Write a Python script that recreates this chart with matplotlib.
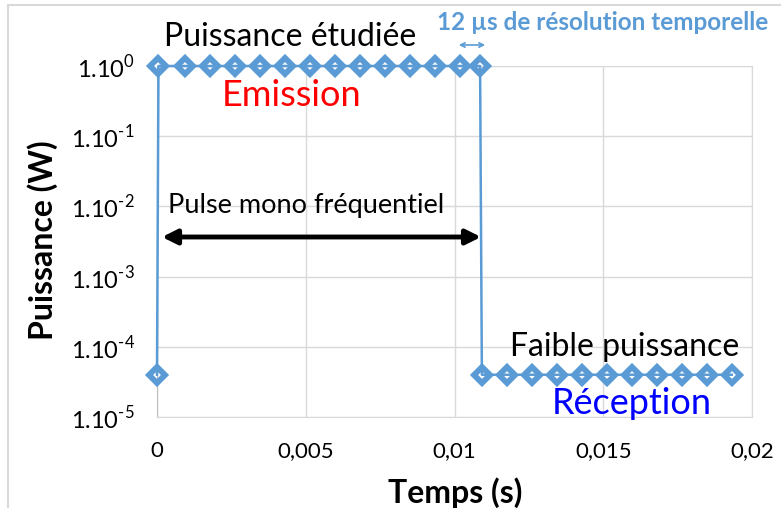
import matplotlib.pyplot as plt
from matplotlib.patches import Rectangle

plt.rcParams['font.family'] = ['Lato', 'DejaVu Sans']
plt.rcParams['mathtext.fontset'] = 'custom'
plt.rcParams['mathtext.rm'] = 'Lato'

# pulse: emission level then low-power reception level
temps = [0, 0.00005, 0.00094, 0.00178, 0.00262, 0.00346, 0.0043, 0.00514,
         0.00598, 0.00682, 0.00766, 0.0085, 0.00934, 0.01018, 0.01086,
         0.01092, 0.01176, 0.0126, 0.01344, 0.01428, 0.01512, 0.01596,
         0.0168, 0.01764, 0.01848, 0.01932]
puissance = [4e-5] + [1.0] * 14 + [4e-5] * 11

xticks = [0, 0.005, 0.01, 0.015, 0.02]
xlabels = ['0', '0,005', '0,01', '0,015', '0,02']
yticks = [1e0, 1e-1, 1e-2, 1e-3, 1e-4, 1e-5]
ylabels = [r'1.10$^{\text{%d}}$' % e for e in [0, -1, -2, -3, -4, -5]]

W, H = 781, 508
blue = '#5B9BD5'
grid = '#D9D9D9'


def fx(x):
    return x / W


def fy(y):
    return 1 - y / H


fig = plt.figure(figsize=(W / 100, H / 100), dpi=100)
ax = fig.add_axes([fx(157), fy(417), fx(752) - fx(157), fy(66) - fy(417)])

ax.plot(temps, puissance, color=blue, lw=1.8, marker='D', markersize=8.5,
        markerfacecolor='none', markeredgecolor=blue, markeredgewidth=4.2,
        clip_on=False, zorder=3)

ax.set_yscale('log')
ax.set_xlim(0, 0.02)
ax.set_ylim(1e-5, 1)
ax.set_xticks(xticks)
ax.set_xticklabels(xlabels, fontsize=16)
ax.set_yticks(yticks)
ax.set_yticklabels(ylabels, fontsize=17)
ax.minorticks_off()
ax.tick_params(axis='y', length=0, pad=16)
ax.tick_params(axis='x', length=0, pad=17)
ax.grid(True, color=grid, lw=1)
for s in ax.spines.values():
    s.set_color(grid)
ax.spines['left'].set_color('#BFBFBF')

ax.set_xlabel('Temps (s)', fontsize=23, fontweight='bold')
ax.set_ylabel('Puissance (W)', fontsize=23, fontweight='bold')
ax.xaxis.set_label_coords(0.501, -0.171)
ax.yaxis.set_label_coords(-0.167, 0.504)

# annotations
fig.text(fx(290), fy(37), 'Puissance étudiée', fontsize=23, ha='center', va='center')
fig.text(fx(292), fy(95), 'Emission', fontsize=26, color='#FF0000', ha='center', va='center')
fig.text(fx(603), fy(22), '12 µs de résolution temporelle', fontsize=17.5,
         fontweight='bold', color=blue, ha='center', va='center')
fig.text(fx(306), fy(205), 'Pulse mono fréquentiel', fontsize=19.5, ha='center', va='center')
fig.text(fx(625), fy(347), 'Faible puissance', fontsize=23, ha='center', va='center')
fig.text(fx(632), fy(404), 'Réception', fontsize=26, color='#0000FF', ha='center', va='center')

ax.annotate('', xy=(fx(488), fy(45)), xytext=(fx(456), fy(45)),
            xycoords='figure fraction', textcoords='figure fraction',
            arrowprops=dict(arrowstyle='<->', color=blue, lw=1.2, mutation_scale=8))
ax.annotate('', xy=(fx(481), fy(237)), xytext=(fx(162), fy(237)),
            xycoords='figure fraction', textcoords='figure fraction',
            arrowprops=dict(arrowstyle='<|-|>', color='black', lw=3.5,
                            mutation_scale=22, shrinkA=0, shrinkB=0))

# chart frame
fig.patches.append(Rectangle((fx(8), fy(H + 10)), fx(W + 10), fy(5) - fy(H + 10),
                             transform=fig.transFigure, fill=False,
                             edgecolor=grid, lw=1.5))

fig.savefig('out.png', dpi=100)
